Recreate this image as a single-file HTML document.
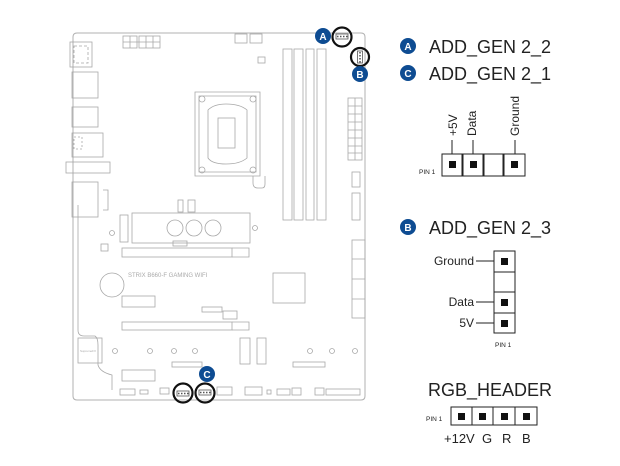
<!DOCTYPE html>
<html><head><meta charset="utf-8"><style>
html,body{margin:0;padding:0;background:#fff;}
svg{display:block;}
text{font-family:"Liberation Sans",sans-serif;}
</style></head><body>
<svg width="620" height="466" viewBox="0 0 620 466" xmlns="http://www.w3.org/2000/svg">
<g fill="none" stroke="#a8a8a8" stroke-width="0.8">
<path d="M77 33 H361 Q365 33 365 37 V396 Q365 400 361 400 H77 Q73 400 73 396 V37 Q73 33 77 33 Z" stroke="#b0b0b0" stroke-width="1"/>
<rect x="70" y="42" width="22" height="25"/>
<rect x="74" y="46" width="14" height="17" stroke-dasharray="3 2"/>
<rect x="72" y="72" width="26" height="26"/>
<rect x="72" y="107" width="26" height="20"/>
<rect x="72" y="133" width="31" height="24"/>
<rect x="74" y="137" width="8" height="12" stroke-dasharray="2 2"/>
<rect x="66" y="162" width="44" height="11"/>
<rect x="72" y="182" width="26" height="35"/>
<path d="M103 190 H108 V210 H103"/>
<rect x="123" y="36" width="14" height="12"/><rect x="139" y="36" width="21" height="12"/>
<path d="M130 36 V48 M123 42 H160 M146 36 V48 M153 36 V48"/>
<rect x="235" y="34" width="12" height="9"/><rect x="250" y="34" width="12" height="9"/>
<rect x="258" y="57" width="7" height="6"/>
<rect x="283" y="49" width="9" height="171"/><rect x="294" y="49" width="9" height="171"/>
<rect x="306" y="49" width="8" height="171"/><rect x="317" y="49" width="9" height="171"/>
<path d="M195 92 H260 V176 H195 Z"/>
<path d="M199 96 H256 V172 H199 Z"/>
<rect x="218" y="118" width="17" height="30"/>
<path d="M208 110 Q214 104 226 104 Q240 104 247 110 V158 Q240 164 226 164 Q212 164 208 158 Z"/>
<circle cx="202" cy="99" r="3"/><circle cx="253" cy="99" r="3"/><circle cx="202" cy="170" r="3"/><circle cx="253" cy="170" r="3"/>
<path d="M253 176 V183 Q253 188 258 188 H262 Q265 188 265 184 V176"/>
<rect x="348" y="98" width="14" height="62"/>
<path d="M355 98 V160 M348 106 H362 M348 114 H362 M348 122 H362 M348 130 H362 M348 138 H362 M348 146 H362 M348 153 H362"/>
<rect x="352" y="172" width="8" height="15"/><rect x="352" y="193" width="8" height="27"/>
<rect x="178" y="200" width="5" height="12"/><rect x="188" y="200" width="7" height="12"/>
<path d="M78 205 V330 Q78 336 84 336 H95 Q98 338 98 345 V365 Q100 372 112 375 V390"/>
<rect x="132" y="213" width="118" height="30"/>
<circle cx="175" cy="228" r="8"/><circle cx="194" cy="228" r="8"/><circle cx="213" cy="228" r="8"/>
<rect x="173" y="241" width="14" height="5"/>
<rect x="120" y="215" width="8" height="27"/>
<circle cx="112" cy="233" r="2.5"/><circle cx="255" cy="228" r="2.5"/>
<rect x="101" y="244" width="7" height="7"/>
<rect x="122" y="248" width="110" height="9"/><path d="M232 248 H249 V257 H232"/>
<circle cx="112" cy="285" r="12"/>
<rect x="122" y="296" width="33" height="11"/>
<rect x="273" y="273" width="32" height="30"/>
<rect x="352" y="240" width="13" height="78"/><path d="M352 259 H365 M352 279 H365 M352 299 H365"/>
<rect x="202" y="307" width="20" height="5"/><rect x="223" y="311" width="14" height="8"/>
<rect x="122" y="322" width="110" height="8"/><path d="M232 322 H249 V330 H232"/>
<rect x="78" y="338" width="24" height="25"/>
<circle cx="115" cy="351" r="2.5"/><circle cx="150" cy="351" r="2.5"/><circle cx="174" cy="351" r="2.5"/><circle cx="195" cy="351" r="2.5"/><circle cx="310" cy="351" r="2.5"/><circle cx="332" cy="351" r="2.5"/><circle cx="355" cy="351" r="2.5"/>
<rect x="240" y="338" width="10" height="26"/><rect x="257" y="338" width="9" height="26"/>
<rect x="172" y="362" width="30" height="5"/><rect x="293" y="362" width="32" height="5"/>
<rect x="122" y="370" width="33" height="11"/>
<rect x="120" y="389" width="15" height="6"/><rect x="140" y="390" width="8" height="4"/>
<rect x="160" y="388" width="9" height="6"/>
<rect x="217" y="387" width="15" height="8"/><rect x="245" y="387" width="17" height="8"/>
<rect x="267" y="390" width="4" height="4"/><rect x="277" y="389" width="13" height="6"/>
<rect x="292" y="388" width="9" height="7"/><rect x="315" y="388" width="9" height="7"/><rect x="326" y="389" width="34" height="6"/>
</g>
<text x="128" y="277" font-size="6" fill="#aaa">STRIX B660-F GAMING WIFI</text>
<text x="80" y="352" font-size="3" fill="#aaa">SupremeFX</text>
<g fill="none" stroke="#111" stroke-width="2.2">
<circle cx="342" cy="37" r="9.5"/><circle cx="360" cy="57" r="9"/>
<circle cx="183" cy="393" r="9.5"/><circle cx="205" cy="393" r="9.5"/>
</g>
<g fill="none" stroke="#555" stroke-width="0.8">
<rect x="336" y="34" width="12" height="5"/><rect x="357.5" y="51" width="5" height="12"/><rect x="177" y="391" width="12" height="5"/><rect x="199" y="390" width="12" height="5"/>
</g>
<g stroke="#555" stroke-width="1.5" stroke-dasharray="1.5 1.5">
<path d="M337 36.5 H348 M360 52 V63 M178 393.5 H189 M200 392.5 H211"/>
</g>
<g fill="#0e4c92">
<circle cx="323" cy="36" r="8"/><circle cx="360" cy="74" r="8"/><circle cx="207" cy="374" r="8"/>
<circle cx="408" cy="46" r="8"/><circle cx="408" cy="73" r="8"/><circle cx="408" cy="227" r="8"/>
</g>
<g fill="#fff" font-size="10" font-weight="bold" text-anchor="middle">
<text x="323" y="40">A</text><text x="360" y="78">B</text><text x="207" y="378">C</text>
<text x="408" y="50">A</text><text x="408" y="77">C</text><text x="408" y="231">B</text>
</g>
<g fill="#222" font-size="18">
<text x="429" y="53">ADD_GEN 2_2</text>
<text x="429" y="80">ADD_GEN 2_1</text>
<text x="429" y="234">ADD_GEN 2_3</text>
<text x="428" y="396">RGB_HEADER</text>
</g>
<g fill="none" stroke="#222" stroke-width="1">
<rect x="442" y="154" width="20" height="22"/><rect x="463" y="154" width="20" height="22"/><rect x="484" y="154" width="19" height="22"/><rect x="504" y="154" width="21" height="22"/>
<path d="M452 140 V154 M473 140 V154 M515 140 V154"/>
<rect x="494" y="251" width="21" height="21"/><rect x="494" y="272" width="21" height="20"/><rect x="494" y="292" width="21" height="21"/><rect x="494" y="313" width="21" height="20"/>
<path d="M476 261 H494 M476 302 H494 M476 323 H494"/>
<rect x="451" y="407" width="21" height="18"/><rect x="472" y="407" width="21" height="18"/><rect x="493" y="407" width="22" height="18"/><rect x="515" y="407" width="22" height="18"/>
</g>
<g fill="#111">
<rect x="449" y="161" width="7" height="7"/><rect x="470" y="161" width="7" height="7"/><rect x="511" y="161" width="7" height="7"/>
<rect x="501" y="258" width="7" height="7"/><rect x="501" y="299" width="7" height="7"/><rect x="501" y="320" width="7" height="7"/>
<rect x="458" y="413" width="7" height="7"/><rect x="479" y="413" width="7" height="7"/><rect x="501" y="413" width="7" height="7"/><rect x="523" y="413" width="7" height="7"/>
</g>
<g fill="#222" font-size="12">
<text transform="translate(457,136) rotate(-90)">+5V</text>
<text transform="translate(476,136) rotate(-90)">Data</text>
<text transform="translate(519,136) rotate(-90)">Ground</text>
<text x="474" y="265" text-anchor="end">Ground</text>
<text x="474" y="306" text-anchor="end">Data</text>
<text x="474" y="327" text-anchor="end">5V</text>
<text x="444" y="443" font-size="13">+12V</text><text x="482" y="443" font-size="13">G</text><text x="502" y="443" font-size="13">R</text><text x="522" y="443" font-size="13">B</text>
</g>
<g fill="#222" font-size="6.5">
<text x="419" y="174">PIN 1</text>
<text x="495" y="347">PIN 1</text>
<text x="426" y="421">PIN 1</text>
</g>
</svg>
</body></html>
